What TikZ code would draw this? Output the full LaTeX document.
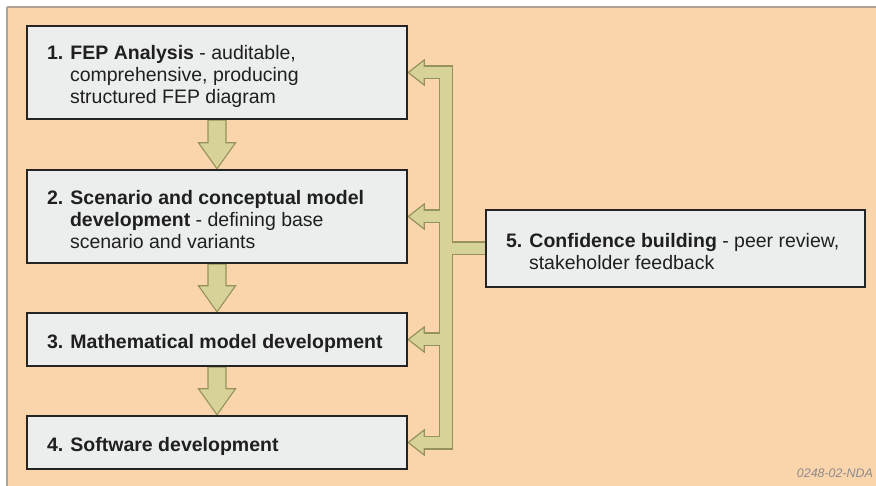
\documentclass[tikz,border=0pt]{standalone}
\usepackage{fontspec}
\setmainfont{Liberation Sans}
\usetikzlibrary{calc}

\definecolor{peach}{RGB}{250,212,170}
\definecolor{boxfill}{RGB}{236,238,238}
\definecolor{boxline}{RGB}{36,36,36}
\definecolor{khaki}{RGB}{214,210,152}
\definecolor{olive}{RGB}{150,146,92}
\definecolor{frametop}{RGB}{180,160,144}
\definecolor{frameleft}{RGB}{168,164,160}
\definecolor{tagtext}{RGB}{140,140,140}

% paragraph with a hanging indent for the numbered stage texts;
% lines are broken with \hfil\break so the whole text stays one paragraph,
% and the block sits a little below the box centre
\newcommand\stagetext[2][340pt]{\raisebox{-3.5pt}[\height][\depth]{\parbox{#1}{\hangindent=23pt\hangafter=1 #2}}}
\newcommand\nl{\hfil\break}

\begin{document}
\begin{tikzpicture}[x=1pt,y=-1pt,
  stagebox/.style={draw=boxline, line width=2.4pt, fill=boxfill,
    minimum width=380pt, inner xsep=20pt, inner ysep=0pt,
    font=\fontsize{19.5}{22}\selectfont, text=black!88},
  flowarrow/.style={fill=khaki, draw=olive, line width=1.1pt, line join=miter},
  busedge/.style={olive, line width=14pt, line join=miter, line cap=butt},
  buscore/.style={khaki, line width=11.6pt, line join=miter, line cap=butt},
  bushead/.style={fill=khaki, draw=olive, line width=1.2pt, line join=miter}]

\useasboundingbox (0,0) rectangle (876,486);

% page and panel
\fill[white] (0,0) rectangle (876,486);
\fill[peach] (8,8) rectangle (876,486);
\draw[frametop, line width=2pt] (7,7) -- (876,7);
\draw[frameleft, line width=2pt] (7,486) -- (7,7);

% stage box outlines as anchors (the visible boxes are drawn on top below)
\path
  (217,72.5)  node[stagebox, minimum height=93pt, draw=none, fill=none] (b1) {}
  (217,216.5) node[stagebox, minimum height=93pt, draw=none, fill=none] (b2) {}
  (217,339.5) node[stagebox, minimum height=53pt, draw=none, fill=none] (b3) {}
  (217,442.5) node[stagebox, minimum height=53pt, draw=none, fill=none] (b4) {}
  (675.5,248.5) node[stagebox, minimum width=379pt, minimum height=77pt, draw=none, fill=none] (b5) {};
\coordinate (busx) at (446,0);

% downward flow arrows between consecutive stages
\foreach \a/\b in {b1/b2, b2/b3, b3/b4}{
  \draw[flowarrow] ([xshift=-9pt]\a.south)
    -- ([xshift=-9pt,yshift=26pt]\b.north)
    -- ([xshift=-18.5pt,yshift=26pt]\b.north)
    -- (\b.north)
    -- ([xshift=18.5pt,yshift=26pt]\b.north)
    -- ([xshift=9pt,yshift=26pt]\b.north)
    -- ([xshift=9pt]\a.south) -- cycle;
}

% feedback bus from confidence building: outline pass
\draw[busedge] ([xshift=16pt]b1.east) -- (b1.east -| busx)
  -- (b4.east -| busx) -- ([xshift=16pt]b4.east);
\draw[busedge] ([xshift=16pt]b2.east) -- (b2.east -| busx);
\draw[busedge] ([xshift=16pt]b3.east) -- (b3.east -| busx);
\draw[busedge] (b5.west) -- (b5.west -| busx);

% arrowheads into stages 1-4
\foreach \n in {b1,b2,b3,b4}{
  \draw[bushead] (\n.east) -- ++(16,-12.5) -- ++(0,25) -- cycle;
}

% feedback bus: fill pass
\draw[buscore] ([xshift=15pt]b1.east) -- (b1.east -| busx)
  -- (b4.east -| busx) -- ([xshift=15pt]b4.east);
\draw[buscore] ([xshift=15pt]b2.east) -- (b2.east -| busx);
\draw[buscore] ([xshift=15pt]b3.east) -- (b3.east -| busx);
\draw[buscore] (b5.west) -- (b5.west -| busx);

% stage boxes with their texts
\node[stagebox, minimum height=93pt] (s1) at (b1) {\stagetext{\textbf{1. FEP Analysis} - auditable,\nl comprehensive, producing\nl structured FEP diagram}};
\node[stagebox, minimum height=93pt] (s2) at (b2) {\stagetext{\textbf{2. Scenario and conceptual model}\nl \textbf{development} - defining base\nl scenario and variants}};
\node[stagebox, minimum height=53pt] (s3) at (b3) {\stagetext{\textbf{3. Mathematical model development}}};
\node[stagebox, minimum height=53pt] (s4) at (b4) {\stagetext{\textbf{4. Software development}}};
\node[stagebox, minimum width=379pt, minimum height=77pt] (s5) at (b5) {\stagetext[339pt]{\textbf{5. Confidence building} - peer review,\nl stakeholder feedback}};

% drawing reference
\node[anchor=base east, inner sep=0pt, font=\fontsize{12.4}{14}\selectfont\itshape, text=tagtext] (tag) at (873,477) {0248-02-NDA};
\end{tikzpicture}
\end{document}
